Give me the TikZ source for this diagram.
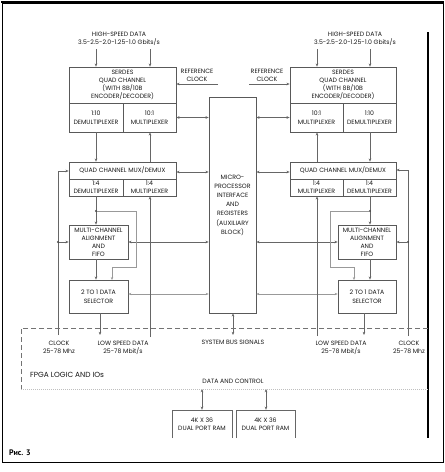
\documentclass[tikz,border=0pt]{standalone}
\usepackage{fontspec}
\setmainfont{Poppins}
\newfontfamily\cyrfont{PT Sans}
\usetikzlibrary{arrows.meta}
\begin{document}
\begin{tikzpicture}[x=1pt,y=-1pt,
  every node/.style={font=\fontsize{6.2}{8}\selectfont, text=black!90, inner sep=0pt},
  box/.style={draw=black!65, line width=0.6pt, align=center},
  lab/.style={align=center},
  ln/.style={draw=black!60, line width=0.6pt},
  arr/.style={ln, -{Stealth[length=3.2pt,width=2.6pt]}},
  darr/.style={ln, {Stealth[length=3.2pt,width=2.6pt]}-{Stealth[length=3.2pt,width=2.6pt]}},
  larr/.style={draw=black!40, line width=0.5pt, -{Stealth[length=3pt,width=2.4pt]}},
  ldarr/.style={draw=black!40, line width=0.5pt, {Stealth[length=3pt,width=2.4pt]}-{Stealth[length=3pt,width=2.4pt]}},
  dot/.style={circle, fill=black!70, minimum size=2.2pt, inner sep=0pt}
]
\useasboundingbox (0,0) rectangle (445,472);
\fill[white] (0,0) rectangle (445,472);
% outer frame
\draw[black, line width=1pt] (2,3) rectangle (443,462);
\draw[black, line width=2.5pt] (1,2) -- (444,2);
\draw[black, line width=2pt] (428,32) -- (428,438);

% ---------- left column boxes
\node[box, minimum width=107pt, minimum height=36pt] (serL) at (122.5,85) {SERDES\\QUAD CHANNEL\\(WITH 8B/10B\\ENCODER/DECODER)};
\node[box, minimum width=54pt, minimum height=29pt] (serLa) at (96,117.5) {1:10\\[0.6pt]DEMULTIPLEXER};
\node[box, minimum width=53pt, minimum height=29pt] (serLb) at (149.5,117.5) {10:1\\[0.6pt]MULTIPLEXER};
\node[box, minimum width=107pt, minimum height=17pt] (quadL) at (122.5,170.5) {QUAD CHANNEL MUX/DEMUX};
\node[box, minimum width=54pt, minimum height=17pt] (quadLa) at (96,187.5) {1:4\\DEMULTIPLEXER};
\node[box, minimum width=53pt, minimum height=17pt] (quadLb) at (149.5,187.5) {1:4\\MULTIPLEXER};
\node[box, minimum width=59pt, minimum height=34pt] (mulL) at (98.5,242) {MULTI-CHANNEL\\ALIGNMENT\\AND\\FIFO};
\node[box, minimum width=59pt, minimum height=33pt] (selL) at (98.5,296.5) {2 TO 1 DATA\\[1pt]SELECTOR};

% ---------- right column boxes
\node[box, minimum width=106pt, minimum height=36pt] (serR) at (343,85) {SERDES\\QUAD CHANNEL\\(WITH 8B/10B\\ENCODER/DECODER)};
\node[box, minimum width=53pt, minimum height=29pt] (serRa) at (316.5,117.5) {10:1\\[0.6pt]MULTIPLEXER};
\node[box, minimum width=53pt, minimum height=29pt] (serRb) at (369.5,117.5) {1:10\\[0.6pt]DEMULTIPLEXER};
\node[box, minimum width=106pt, minimum height=17pt] (quadR) at (343,170.5) {QUAD CHANNEL MUX/DEMUX};
\node[box, minimum width=53pt, minimum height=17pt] (quadRa) at (316.5,187.5) {1:4\\MULTIPLEXER};
\node[box, minimum width=53pt, minimum height=17pt] (quadRb) at (369.5,187.5) {1:4\\DEMULTIPLEXER};
\node[box, minimum width=58pt, minimum height=34pt] (mulR) at (367,242) {MULTI-CHANNEL\\ALIGNMENT\\AND\\FIFO};
\node[box, minimum width=58pt, minimum height=33pt] (selR) at (367,296.5) {2 TO 1 DATA\\[1pt]SELECTOR};

% ---------- MPU
\node[box, minimum width=47pt, minimum height=216pt, font=\fontsize{6.2}{9.2}\selectfont] (mpu) at (232.5,205) {MICRO-\\PROCESSOR\\INTERFACE\\AND\\REGISTERS\\(AUXILIARY\\BLOCK)};

% ---------- RAM
\node[minimum width=60pt, minimum height=28pt, align=center] (ramL) at (202,424) {4K X 36\\DUAL PORT RAM};
\node[minimum width=59pt, minimum height=28pt, align=center] (ramR) at (265.5,424) {4K X 36\\DUAL PORT RAM};
\draw[ln] (ramL.south west) |- (ramL.north east) -- (ramL.south east);
\draw[ln] (ramR.south west) |- (ramR.north east) -- (ramR.south east);

% ---------- labels
\node[lab] (hsL) at (119,38.5) {HIGH-SPEED DATA\\3.5-2.5-2.0-1.25-1.0 Gbits/s};
\node[lab] (hsR) at (355,38.5) {HIGH-SPEED DATA\\3.5-2.5-2.0-1.25-1.0 Gbits/s};
\node[lab] (rcL) at (197,75) {REFERENCE\\CLOCK};
\node[lab] (rcR) at (267,75) {REFERENCE\\CLOCK};
\node[lab] (clkL) at (59,347.5) {CLOCK\\25-78 Mhz};
\node[lab] (clkR) at (409,347.5) {CLOCK\\25-78 Mhz};
\node[lab] (lsL) at (123,347.5) {LOW SPEED DATA\\25-78 Mbit/s};
\node[lab] (lsR) at (341,347.5) {LOW SPEED DATA\\25-78 Mbit/s};
\node[lab] (bus) at (233,342) {SYSTEM BUS SIGNALS};
\node[lab] (dc) at (233,381) {DATA AND CONTROL};
\node[anchor=west, font=\fontsize{7.4}{8}\selectfont] (fpga) at (30,375) {FPGA LOGIC AND IOs};
\node[anchor=west, font=\cyrfont\bfseries\fontsize{8}{9}\selectfont, text=black] (fig) at (9,453) {Рис. 3};

% ---------- free-end coordinates
\coordinate (hsL1) at (96,49);
\coordinate (hsL2) at (150,49);
\coordinate (hsR1) at (317,49);
\coordinate (hsR2) at (370,49);
\coordinate (rcLe) at (218,84);
\coordinate (rcRe) at (249,84);
\coordinate (clkLb) at (58,335);
\coordinate (clkLt) at (58,171);
\coordinate (clkLd) at (58,242);
\coordinate (clkRb) at (408,336);
\coordinate (clkRt) at (408,170);
\coordinate (clkRd) at (408,242);
\coordinate (lsLe) at (150,337);
\coordinate (lsRe) at (317,336);
\coordinate (outL) at (100,335);
\coordinate (outR) at (364,335);
\coordinate (busE) at (233,335);
\coordinate (dcL) at (202,389);
\coordinate (dcR) at (266,389);
\coordinate (fbL) at (96,211);
\coordinate (fbR) at (370,211);

% ---------- connectors: high-speed
\draw[arr] (hsL1) -- (hsL1 |- serL.north);
\draw[arr] (hsL2) -- (hsL2 |- serL.north);
\draw[arr] (hsR1) -- (hsR1 |- serR.north);
\draw[arr] (hsR2) -- (hsR2 |- serR.north);
\draw[arr] (rcLe) -- (rcLe -| serL.east);
\draw[arr] (rcRe) -- (rcRe -| serR.west);
\draw[darr] (serLb.east) -- (serLb.east -| mpu.west);
\draw[darr] (serRa.west) -- (serRa.west -| mpu.east);

% serdes <-> quad
\draw[arr] (serLa.south) -- (serLa.south |- quadL.north);
\draw[arr] (quadL.north -| hsL2) -- (serLb.south -| hsL2);
\draw[arr] (quadR.north -| hsR1) -- (serRa.south -| hsR1);
\draw[arr] (serRb.south -| hsR2) -- (quadR.north -| hsR2);

% quad <-> mpu
\draw[darr] ([yshift=-1.5pt]quadL.east) -- ([yshift=-1.5pt]quadL.east -| mpu.west);
\draw[darr] ([yshift=-1.5pt]quadR.west) -- ([yshift=-1.5pt]quadR.west -| mpu.east);
\draw[darr] (mulL.east) -- (mulL.east -| mpu.west);
\draw[darr] (mulR.west) -- (mulR.west -| mpu.east);
\draw[ldarr] ([yshift=2.5pt]selL.east) -- ([yshift=2.5pt]selL.east -| mpu.west);
\draw[ldarr] ([yshift=2.5pt]selR.west) -- ([yshift=2.5pt]selR.west -| mpu.east);

% left chain
\draw[arr] (quadLa.south) -- (quadLa.south |- mulL.north);
\node[dot] (dfbL) at (fbL) {};
\draw[larr] (dfbL) -- (136,211) -- (136,267) -- (112,267) -- (112,280);
\draw[arr] (mulL.south -| fbL) -- (selL.north -| fbL);
\draw[arr] (selL.south -| outL) -- (outL);
\draw[arr] (lsLe) -- (lsLe |- quadLb.south);
\draw[arr] (clkLb) -- (clkLt) -- (clkLt -| quadL.west);
\node[dot] (dclkL) at (clkLd) {};
\draw[arr] (dclkL) -- (dclkL -| mulL.west);

% right chain
\draw[arr] (quadRb.south -| fbR) -- (mulR.north -| fbR);
\node[dot] (dfbR) at (fbR) {};
\draw[larr] (dfbR) -- (330,211) -- (330,267) -- (354,267) -- (354,280);
\draw[arr] (mulR.south -| fbR) -- (selR.north -| fbR);
\draw[arr] (selR.south -| outR) -- (outR);
\draw[arr] (lsRe) -- (lsRe |- quadRa.south);
\draw[arr] (clkRb) -- (clkRt) -- (clkRt -| quadR.east);
\node[dot] (dclkR) at (clkRd) {};
\draw[arr] (dclkR) -- (dclkR -| mulR.east);

% bus and RAM
\draw[darr] (mpu.south -| busE) -- (busE);
\draw[darr] (dcL) -- (dcL |- ramL.north);
\draw[darr] (dcR) -- (dcR |- ramR.north);

% FPGA region
\draw[black!55, line width=0.6pt, dash pattern=on 5pt off 3pt] (428,328) -- (21,328) -- (21,389);
\draw[black!25, line width=0.5pt, dash pattern=on 1pt off 1pt] (21,389) -- (428,389);
\end{tikzpicture}
\end{document}
